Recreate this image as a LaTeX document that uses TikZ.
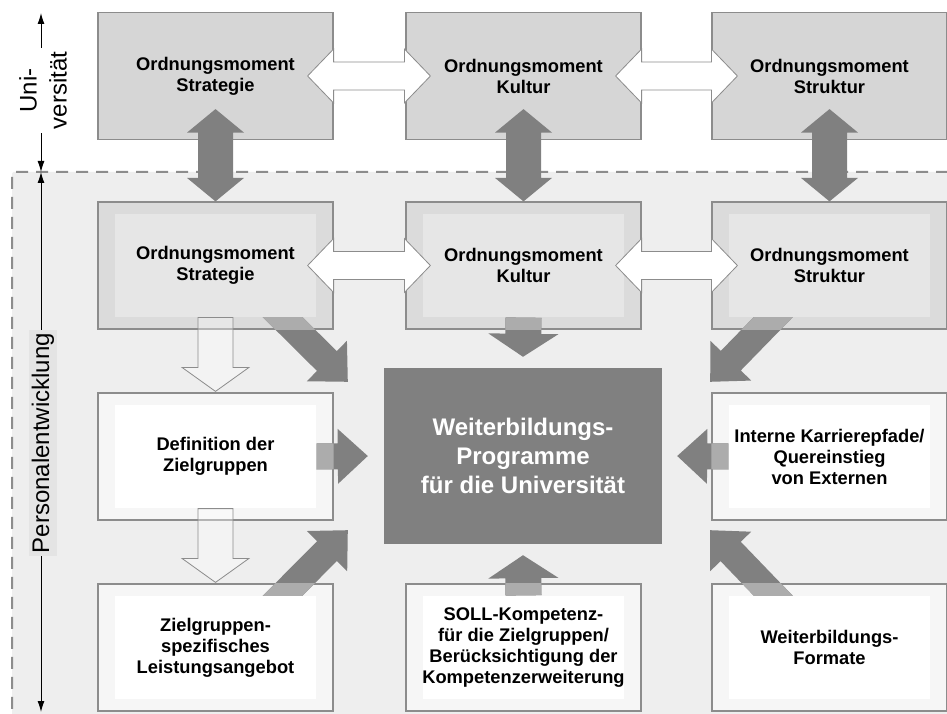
\documentclass[tikz,border=0pt]{standalone}
\usepackage{fontspec}
\setmainfont{Liberation Sans}
\usetikzlibrary{calc,arrows.meta}

\definecolor{unifill}{RGB}{214,214,214}
\definecolor{pefill}{RGB}{219,219,219}
\definecolor{peinner}{RGB}{230,230,230}
\definecolor{taskfill}{RGB}{246,246,246}
\definecolor{field}{RGB}{238,238,238}
\definecolor{labelbg}{RGB}{228,228,228}
\definecolor{edge}{RGB}{140,140,140}
\definecolor{arrowgray}{RGB}{128,128,128}
\definecolor{stubgray}{RGB}{172,172,172}

\newcommand{\boxfont}{\fontsize{18.3}{21}\selectfont\bfseries}
\newcommand{\hubfont}{\fontsize{24}{29}\selectfont\bfseries}
\newcommand{\sidefont}{\fontsize{24}{30}\selectfont}

% block arrow: style, from, to, half shaft, head length, half head
\newcommand{\fatarrow}[6]{
    \coordinate (fa-a) at #2;
    \coordinate (fa-b) at #3;
    \coordinate (fa-c) at ($(fa-b)!#5!(fa-a)$);
    \path[#1] ($(fa-a)!#4!90:(fa-b)$) -- ($(fa-c)!#4!-90:(fa-a)$) -- ($(fa-c)!#6!-90:(fa-a)$)
      -- (fa-b) -- ($(fa-c)!#6!90:(fa-a)$) -- ($(fa-c)!#4!90:(fa-a)$) -- ($(fa-a)!#4!-90:(fa-b)$) -- cycle;
}
% block arrow with a head at both ends
\newcommand{\twinarrow}[6]{
    \coordinate (fa-a) at #2;
    \coordinate (fa-b) at #3;
    \coordinate (fa-c) at ($(fa-a)!#5!(fa-b)$);
    \coordinate (fa-d) at ($(fa-b)!#5!(fa-a)$);
    \path[#1] (fa-a) -- ($(fa-c)!#6!90:(fa-b)$) -- ($(fa-c)!#4!90:(fa-b)$) -- ($(fa-d)!#4!-90:(fa-a)$)
      -- ($(fa-d)!#6!-90:(fa-a)$) -- (fa-b) -- ($(fa-d)!#6!90:(fa-a)$) -- ($(fa-d)!#4!90:(fa-a)$)
      -- ($(fa-c)!#4!-90:(fa-b)$) -- ($(fa-c)!#6!-90:(fa-b)$) -- cycle;
}
% grey arrow leaving a box: cut off at the inner panel, lighter across the rim
\newcommand{\flowarrow}[7]{
    \begin{scope}
      \clip #2;
      \fatarrow{fill=arrowgray}{#3}{#4}{#5}{#6}{#7}
      \clip (#1.south west) rectangle (#1.north east);
      \fatarrow{fill=stubgray}{#3}{#4}{#5}{#6}{#7}
    \end{scope}
}

\tikzset{
  inset/.style={path picture={\fill[#1] ($(path picture bounding box.south west)+(17,12)$)
      rectangle ($(path picture bounding box.north east)+(-17,-12)$);}},
  unibox/.style={draw=edge, line width=1.2pt, fill=unifill, minimum width=235pt,
      minimum height=127pt, inner sep=0pt, align=center, font=\boxfont},
  pebox/.style={unibox, fill=pefill, inset=peinner},
  taskbox/.style={unibox, fill=taskfill, inset=white},
  hub/.style={fill=arrowgray, text=white, minimum width=278pt, minimum height=176pt,
      inner sep=0pt, align=center, font=\hubfont},
  whitearrow/.style={draw=edge, line width=0.8pt, fill=white},
  openarrow/.style={draw=edge, line width=0.8pt, fill=white, fill opacity=0.35},
  sidelabel/.style={rotate=90, font=\sidefont, align=center},
  scalearrow/.style={line width=1pt, -{Latex[length=11pt,width=7pt]}}
}

\begin{document}
\begin{tikzpicture}[x=1pt,y=1pt]
\useasboundingbox[fill=white] (0,0) rectangle (947,713);
% Personalentwicklung field
\draw[fill=field, draw=edge, line width=2pt, dash pattern=on 12pt off 8pt, rounded corners=2pt]
    (970,541) -- (12,541) -- (12,-20) -- (970,-20) -- cycle;

\foreach \n/\x/\lbl in {S/215.5/Strategie,K/523.5/Kultur,T/829.5/Struktur}{
    \node[unibox] (u\n) at (\x,637) {Ordnungsmoment\\\lbl};
    \node[pebox] (p\n) at (\x,447.5) {Ordnungsmoment\\\lbl};
}
\node[taskbox] (dz) at (215.5,256.5) {Definition der\\Zielgruppen};
\node[taskbox] (ik) at (829.5,256.5) {Interne Karrierepfade/\\Quereinstieg\\von Externen};
\node[taskbox] (zl) at (215.5,65.5) {Zielgruppen-\\spezifisches\\Leistungsangebot};
\node[taskbox] (sk) at (523.5,65.5) {SOLL-Kompetenz-\\für die Zielgruppen/\\Berücksichtigung der\\Kompetenzerweiterung};
\node[taskbox] (wf) at (829.5,65.5) {Weiterbildungs-\\Formate};
\node[hub] (wp) at (523,257) {Weiterbildungs-\\Programme\\für die Universität};

% links between the rows
\foreach \n in {S,K,T}{
    \twinarrow{fill=arrowgray}{($(u\n.south)+(0,31)$)}{(p\n.north)}{17.5pt}{23.5pt}{28.5pt}
}
\twinarrow{whitearrow}{($(uS.east)+(-26,0)$)}{($(uK.west)+(25,0)$)}{14pt}{26pt}{27pt}
\twinarrow{whitearrow}{($(uK.east)+(-26,0)$)}{($(uT.west)+(26,0)$)}{14pt}{26pt}{27pt}
\twinarrow{whitearrow}{($(pS.east)+(-26,0)$)}{($(pK.west)+(25,0)$)}{14pt}{26pt}{27pt}
\twinarrow{whitearrow}{($(pK.east)+(-26,0)$)}{($(pT.west)+(26,0)$)}{14pt}{26pt}{27pt}
\fatarrow{openarrow}{($(pS.south)+(0,12)$)}{($(dz.north)+(0,1)$)}{17.5pt}{24pt}{33.5pt}
\fatarrow{openarrow}{($(dz.south)+(0,12)$)}{($(zl.north)+(0,1)$)}{17.5pt}{24pt}{33.5pt}

% everything feeds the programmes
\flowarrow{pK}{($(pK.south west)+(0,12)$) rectangle +(235,-200)}
    {($(pK.south)+(0,12)$)}{($(wp.north)+(0,11)$)}{18pt}{23pt}{35pt}
\flowarrow{sk}{($(sk.north west)+(0,-12)$) rectangle +(235,200)}
    {($(sk.north)+(0,-12)$)}{($(wp.south)+(0,-11)$)}{18pt}{23pt}{35pt}
\flowarrow{pS}{($(pS.south west)+(0,12)$) rectangle +(400,-200)}
    {($(pS.south)+(55.5,24)$)}{($(wp.north west)+(-36,-14)$)}{14pt}{29.5pt}{28.5pt}
\flowarrow{pT}{($(pT.south east)+(0,12)$) rectangle +(-400,-200)}
    {($(pT.south)+(-45,24)$)}{($(wp.north east)+(48,-14)$)}{14pt}{29.5pt}{28.5pt}
\flowarrow{zl}{($(zl.north west)+(0,-12)$) rectangle +(400,200)}
    {($(zl.north)+(55.5,-24)$)}{($(wp.south west)+(-36,14)$)}{14pt}{29.5pt}{28.5pt}
\flowarrow{wf}{($(wf.north east)+(0,-12)$) rectangle +(-400,200)}
    {($(wf.north)+(-45,-24)$)}{($(wp.south east)+(48,14)$)}{14pt}{29.5pt}{28.5pt}
\flowarrow{dz}{($(dz.south east)+(-17,0)$) rectangle +(200,127)}
    {($(dz.east)+(-17,0)$)}{($(wp.west)+(-16,0)$)}{13pt}{30pt}{27.5pt}
\flowarrow{ik}{($(ik.south west)+(17,0)$) rectangle +(-200,127)}
    {($(ik.west)+(17,0)$)}{($(wp.east)+(15,0)$)}{13pt}{30pt}{27.5pt}

% scale on the left
\node[sidelabel, inner sep=4pt] (uni) at (43,622.5) {Uni-\\versität};
\node[sidelabel, fill=labelbg, inner sep=3pt] (pe) at (43,270) {Personalentwicklung};
\coordinate (uni-top) at (41,700);
\coordinate (seam) at (41,541);
\coordinate (pe-end) at (41,1);
\draw[scalearrow] (uni.east -| seam) -- (uni-top);
\draw[scalearrow] (uni.west -| seam) -- (seam);
\draw[scalearrow] (pe.east -| seam) -- (seam);
\draw[scalearrow] (pe.west -| seam) -- (pe-end);
\end{tikzpicture}
\end{document}
